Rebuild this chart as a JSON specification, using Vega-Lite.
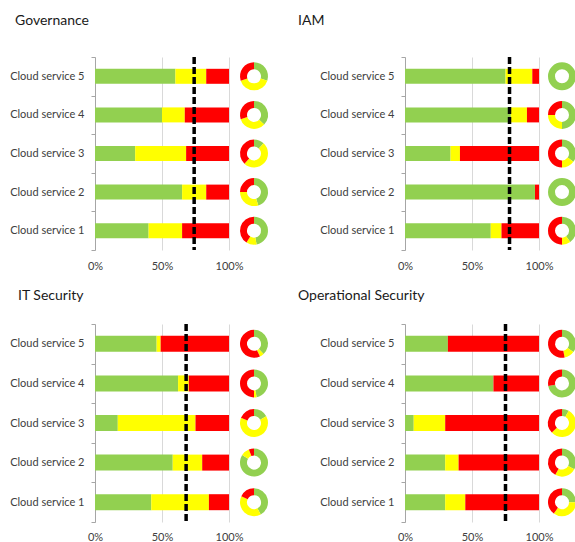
{
  "$schema": "https://vega.github.io/schema/vega-lite/v6.json",
  "padding": {"left": 8, "top": 14, "right": 0, "bottom": 0},
  "config": {
    "font": "Lato",
    "view": {"stroke": null},
    "title": {"font": "Lato", "fontSize": 14, "fontWeight": "normal", "color": "#1a1a1a", "anchor": "start", "offset": 23},
    "axisX": {"format": ".0%", "ticks": false, "domain": false, "grid": true, "gridColor": "#d9d9d9", "labelFlush": false, "labelFont": "Lato", "labelFontSize": 11, "labelColor": "#404040", "labelPadding": 10, "title": null},
    "axisY": {"domain": true, "domainColor": "#a6a6a6", "ticks": true, "tickBand": "extent", "tickSize": 4, "tickColor": "#a6a6a6", "grid": false, "labelFont": "Lato", "labelFontSize": 11, "labelColor": "#404040", "labelPadding": 7, "minExtent": 87, "maxExtent": 87, "title": null}
  },
  "datasets": {
    "bars": [
      {"panel": "Governance", "service": "Cloud service 5", "status": "Compliant", "ord": 1, "value": 0.60},
      {"panel": "Governance", "service": "Cloud service 5", "status": "Partially compliant", "ord": 2, "value": 0.23},
      {"panel": "Governance", "service": "Cloud service 5", "status": "Non-compliant", "ord": 3, "value": 0.17},
      {"panel": "Governance", "service": "Cloud service 4", "status": "Compliant", "ord": 1, "value": 0.50},
      {"panel": "Governance", "service": "Cloud service 4", "status": "Partially compliant", "ord": 2, "value": 0.17},
      {"panel": "Governance", "service": "Cloud service 4", "status": "Non-compliant", "ord": 3, "value": 0.33},
      {"panel": "Governance", "service": "Cloud service 3", "status": "Compliant", "ord": 1, "value": 0.30},
      {"panel": "Governance", "service": "Cloud service 3", "status": "Partially compliant", "ord": 2, "value": 0.38},
      {"panel": "Governance", "service": "Cloud service 3", "status": "Non-compliant", "ord": 3, "value": 0.32},
      {"panel": "Governance", "service": "Cloud service 2", "status": "Compliant", "ord": 1, "value": 0.65},
      {"panel": "Governance", "service": "Cloud service 2", "status": "Partially compliant", "ord": 2, "value": 0.18},
      {"panel": "Governance", "service": "Cloud service 2", "status": "Non-compliant", "ord": 3, "value": 0.17},
      {"panel": "Governance", "service": "Cloud service 1", "status": "Compliant", "ord": 1, "value": 0.40},
      {"panel": "Governance", "service": "Cloud service 1", "status": "Partially compliant", "ord": 2, "value": 0.25},
      {"panel": "Governance", "service": "Cloud service 1", "status": "Non-compliant", "ord": 3, "value": 0.35},
      {"panel": "IAM", "service": "Cloud service 5", "status": "Compliant", "ord": 1, "value": 0.75},
      {"panel": "IAM", "service": "Cloud service 5", "status": "Partially compliant", "ord": 2, "value": 0.20},
      {"panel": "IAM", "service": "Cloud service 5", "status": "Non-compliant", "ord": 3, "value": 0.05},
      {"panel": "IAM", "service": "Cloud service 4", "status": "Compliant", "ord": 1, "value": 0.79},
      {"panel": "IAM", "service": "Cloud service 4", "status": "Partially compliant", "ord": 2, "value": 0.12},
      {"panel": "IAM", "service": "Cloud service 4", "status": "Non-compliant", "ord": 3, "value": 0.09},
      {"panel": "IAM", "service": "Cloud service 3", "status": "Compliant", "ord": 1, "value": 0.34},
      {"panel": "IAM", "service": "Cloud service 3", "status": "Partially compliant", "ord": 2, "value": 0.07},
      {"panel": "IAM", "service": "Cloud service 3", "status": "Non-compliant", "ord": 3, "value": 0.59},
      {"panel": "IAM", "service": "Cloud service 2", "status": "Compliant", "ord": 1, "value": 0.97},
      {"panel": "IAM", "service": "Cloud service 2", "status": "Partially compliant", "ord": 2, "value": 0.0},
      {"panel": "IAM", "service": "Cloud service 2", "status": "Non-compliant", "ord": 3, "value": 0.03},
      {"panel": "IAM", "service": "Cloud service 1", "status": "Compliant", "ord": 1, "value": 0.64},
      {"panel": "IAM", "service": "Cloud service 1", "status": "Partially compliant", "ord": 2, "value": 0.08},
      {"panel": "IAM", "service": "Cloud service 1", "status": "Non-compliant", "ord": 3, "value": 0.28},
      {"panel": "IT Security", "service": "Cloud service 5", "status": "Compliant", "ord": 1, "value": 0.46},
      {"panel": "IT Security", "service": "Cloud service 5", "status": "Partially compliant", "ord": 2, "value": 0.03},
      {"panel": "IT Security", "service": "Cloud service 5", "status": "Non-compliant", "ord": 3, "value": 0.51},
      {"panel": "IT Security", "service": "Cloud service 4", "status": "Compliant", "ord": 1, "value": 0.62},
      {"panel": "IT Security", "service": "Cloud service 4", "status": "Partially compliant", "ord": 2, "value": 0.08},
      {"panel": "IT Security", "service": "Cloud service 4", "status": "Non-compliant", "ord": 3, "value": 0.30},
      {"panel": "IT Security", "service": "Cloud service 3", "status": "Compliant", "ord": 1, "value": 0.17},
      {"panel": "IT Security", "service": "Cloud service 3", "status": "Partially compliant", "ord": 2, "value": 0.58},
      {"panel": "IT Security", "service": "Cloud service 3", "status": "Non-compliant", "ord": 3, "value": 0.25},
      {"panel": "IT Security", "service": "Cloud service 2", "status": "Compliant", "ord": 1, "value": 0.58},
      {"panel": "IT Security", "service": "Cloud service 2", "status": "Partially compliant", "ord": 2, "value": 0.22},
      {"panel": "IT Security", "service": "Cloud service 2", "status": "Non-compliant", "ord": 3, "value": 0.20},
      {"panel": "IT Security", "service": "Cloud service 1", "status": "Compliant", "ord": 1, "value": 0.42},
      {"panel": "IT Security", "service": "Cloud service 1", "status": "Partially compliant", "ord": 2, "value": 0.43},
      {"panel": "IT Security", "service": "Cloud service 1", "status": "Non-compliant", "ord": 3, "value": 0.15},
      {"panel": "Operational Security", "service": "Cloud service 5", "status": "Compliant", "ord": 1, "value": 0.32},
      {"panel": "Operational Security", "service": "Cloud service 5", "status": "Partially compliant", "ord": 2, "value": 0.0},
      {"panel": "Operational Security", "service": "Cloud service 5", "status": "Non-compliant", "ord": 3, "value": 0.68},
      {"panel": "Operational Security", "service": "Cloud service 4", "status": "Compliant", "ord": 1, "value": 0.66},
      {"panel": "Operational Security", "service": "Cloud service 4", "status": "Partially compliant", "ord": 2, "value": 0.0},
      {"panel": "Operational Security", "service": "Cloud service 4", "status": "Non-compliant", "ord": 3, "value": 0.34},
      {"panel": "Operational Security", "service": "Cloud service 3", "status": "Compliant", "ord": 1, "value": 0.065},
      {"panel": "Operational Security", "service": "Cloud service 3", "status": "Partially compliant", "ord": 2, "value": 0.235},
      {"panel": "Operational Security", "service": "Cloud service 3", "status": "Non-compliant", "ord": 3, "value": 0.70},
      {"panel": "Operational Security", "service": "Cloud service 2", "status": "Compliant", "ord": 1, "value": 0.30},
      {"panel": "Operational Security", "service": "Cloud service 2", "status": "Partially compliant", "ord": 2, "value": 0.10},
      {"panel": "Operational Security", "service": "Cloud service 2", "status": "Non-compliant", "ord": 3, "value": 0.60},
      {"panel": "Operational Security", "service": "Cloud service 1", "status": "Compliant", "ord": 1, "value": 0.30},
      {"panel": "Operational Security", "service": "Cloud service 1", "status": "Partially compliant", "ord": 2, "value": 0.15},
      {"panel": "Operational Security", "service": "Cloud service 1", "status": "Non-compliant", "ord": 3, "value": 0.55}
    ],
    "targets": [
      {"panel": "Governance", "value": 0.74},
      {"panel": "IAM", "value": 0.78},
      {"panel": "IT Security", "value": 0.68},
      {"panel": "Operational Security", "value": 0.75}
    ],
    "donuts": [
      {"panel": "Governance", "service": "Cloud service 5", "status": "Compliant", "ord": 1, "value": 30},
      {"panel": "Governance", "service": "Cloud service 5", "status": "Partially compliant", "ord": 2, "value": 40},
      {"panel": "Governance", "service": "Cloud service 5", "status": "Non-compliant", "ord": 3, "value": 30},
      {"panel": "Governance", "service": "Cloud service 4", "status": "Compliant", "ord": 1, "value": 37},
      {"panel": "Governance", "service": "Cloud service 4", "status": "Partially compliant", "ord": 2, "value": 33},
      {"panel": "Governance", "service": "Cloud service 4", "status": "Non-compliant", "ord": 3, "value": 30},
      {"panel": "Governance", "service": "Cloud service 3", "status": "Compliant", "ord": 1, "value": 12},
      {"panel": "Governance", "service": "Cloud service 3", "status": "Partially compliant", "ord": 2, "value": 50},
      {"panel": "Governance", "service": "Cloud service 3", "status": "Non-compliant", "ord": 3, "value": 38},
      {"panel": "Governance", "service": "Cloud service 2", "status": "Compliant", "ord": 1, "value": 45},
      {"panel": "Governance", "service": "Cloud service 2", "status": "Partially compliant", "ord": 2, "value": 30},
      {"panel": "Governance", "service": "Cloud service 2", "status": "Non-compliant", "ord": 3, "value": 25},
      {"panel": "Governance", "service": "Cloud service 1", "status": "Compliant", "ord": 1, "value": 47},
      {"panel": "Governance", "service": "Cloud service 1", "status": "Partially compliant", "ord": 2, "value": 12},
      {"panel": "Governance", "service": "Cloud service 1", "status": "Non-compliant", "ord": 3, "value": 41},
      {"panel": "IAM", "service": "Cloud service 5", "status": "Compliant", "ord": 1, "value": 100},
      {"panel": "IAM", "service": "Cloud service 5", "status": "Partially compliant", "ord": 2, "value": 0},
      {"panel": "IAM", "service": "Cloud service 5", "status": "Non-compliant", "ord": 3, "value": 0},
      {"panel": "IAM", "service": "Cloud service 4", "status": "Compliant", "ord": 1, "value": 50},
      {"panel": "IAM", "service": "Cloud service 4", "status": "Partially compliant", "ord": 2, "value": 25},
      {"panel": "IAM", "service": "Cloud service 4", "status": "Non-compliant", "ord": 3, "value": 25},
      {"panel": "IAM", "service": "Cloud service 3", "status": "Compliant", "ord": 1, "value": 35},
      {"panel": "IAM", "service": "Cloud service 3", "status": "Partially compliant", "ord": 2, "value": 15},
      {"panel": "IAM", "service": "Cloud service 3", "status": "Non-compliant", "ord": 3, "value": 50},
      {"panel": "IAM", "service": "Cloud service 2", "status": "Compliant", "ord": 1, "value": 100},
      {"panel": "IAM", "service": "Cloud service 2", "status": "Partially compliant", "ord": 2, "value": 0},
      {"panel": "IAM", "service": "Cloud service 2", "status": "Non-compliant", "ord": 3, "value": 0},
      {"panel": "IAM", "service": "Cloud service 1", "status": "Compliant", "ord": 1, "value": 40},
      {"panel": "IAM", "service": "Cloud service 1", "status": "Partially compliant", "ord": 2, "value": 10},
      {"panel": "IAM", "service": "Cloud service 1", "status": "Non-compliant", "ord": 3, "value": 50},
      {"panel": "IT Security", "service": "Cloud service 5", "status": "Compliant", "ord": 1, "value": 38},
      {"panel": "IT Security", "service": "Cloud service 5", "status": "Partially compliant", "ord": 2, "value": 5},
      {"panel": "IT Security", "service": "Cloud service 5", "status": "Non-compliant", "ord": 3, "value": 57},
      {"panel": "IT Security", "service": "Cloud service 4", "status": "Compliant", "ord": 1, "value": 47},
      {"panel": "IT Security", "service": "Cloud service 4", "status": "Partially compliant", "ord": 2, "value": 3},
      {"panel": "IT Security", "service": "Cloud service 4", "status": "Non-compliant", "ord": 3, "value": 50},
      {"panel": "IT Security", "service": "Cloud service 3", "status": "Compliant", "ord": 1, "value": 17},
      {"panel": "IT Security", "service": "Cloud service 3", "status": "Partially compliant", "ord": 2, "value": 64},
      {"panel": "IT Security", "service": "Cloud service 3", "status": "Non-compliant", "ord": 3, "value": 19},
      {"panel": "IT Security", "service": "Cloud service 2", "status": "Compliant", "ord": 1, "value": 84},
      {"panel": "IT Security", "service": "Cloud service 2", "status": "Partially compliant", "ord": 2, "value": 10},
      {"panel": "IT Security", "service": "Cloud service 2", "status": "Non-compliant", "ord": 3, "value": 6},
      {"panel": "IT Security", "service": "Cloud service 1", "status": "Compliant", "ord": 1, "value": 42},
      {"panel": "IT Security", "service": "Cloud service 1", "status": "Partially compliant", "ord": 2, "value": 40},
      {"panel": "IT Security", "service": "Cloud service 1", "status": "Non-compliant", "ord": 3, "value": 18},
      {"panel": "Operational Security", "service": "Cloud service 5", "status": "Compliant", "ord": 1, "value": 35},
      {"panel": "Operational Security", "service": "Cloud service 5", "status": "Partially compliant", "ord": 2, "value": 12},
      {"panel": "Operational Security", "service": "Cloud service 5", "status": "Non-compliant", "ord": 3, "value": 53},
      {"panel": "Operational Security", "service": "Cloud service 4", "status": "Compliant", "ord": 1, "value": 72},
      {"panel": "Operational Security", "service": "Cloud service 4", "status": "Partially compliant", "ord": 2, "value": 0},
      {"panel": "Operational Security", "service": "Cloud service 4", "status": "Non-compliant", "ord": 3, "value": 28},
      {"panel": "Operational Security", "service": "Cloud service 3", "status": "Compliant", "ord": 1, "value": 8},
      {"panel": "Operational Security", "service": "Cloud service 3", "status": "Partially compliant", "ord": 2, "value": 55},
      {"panel": "Operational Security", "service": "Cloud service 3", "status": "Non-compliant", "ord": 3, "value": 37},
      {"panel": "Operational Security", "service": "Cloud service 2", "status": "Compliant", "ord": 1, "value": 33},
      {"panel": "Operational Security", "service": "Cloud service 2", "status": "Partially compliant", "ord": 2, "value": 25},
      {"panel": "Operational Security", "service": "Cloud service 2", "status": "Non-compliant", "ord": 3, "value": 42},
      {"panel": "Operational Security", "service": "Cloud service 1", "status": "Compliant", "ord": 1, "value": 25},
      {"panel": "Operational Security", "service": "Cloud service 1", "status": "Partially compliant", "ord": 2, "value": 35},
      {"panel": "Operational Security", "service": "Cloud service 1", "status": "Non-compliant", "ord": 3, "value": 40}
    ]
  },
  "spacing": 18,
  "vconcat": [
    {
      "spacing": 30,
      "hconcat": [
        {
          "title": {"text": "Governance", "dx": 7},
          "spacing": 11,
          "bounds": "flush",
          "hconcat": [
            {
              "width": 134, "height": 193,
              "layer": [
                {
                  "data": {"name": "bars"},
                  "transform": [{"filter": {"field": "panel", "equal": "Governance"}}],
                  "mark": {"type": "bar", "size": 15},
                  "encoding": {
                    "y": {"field": "service", "type": "nominal", "sort": "descending", "scale": {"paddingInner": 0, "paddingOuter": 0}},
                    "x": {"field": "value", "type": "quantitative", "stack": "zero", "scale": {"domain": [0, 1]}, "axis": {"values": [0, 0.5, 1]}},
                    "color": {"field": "status", "type": "nominal", "scale": {"domain": ["Compliant", "Partially compliant", "Non-compliant"], "range": ["#92D050", "#FFFF00", "#FF0000"]}, "legend": null},
                    "order": {"field": "ord"}
                  }
                },
                {
                  "data": {"name": "targets"},
                  "transform": [{"filter": {"field": "panel", "equal": "Governance"}}],
                  "mark": {"type": "rule", "color": "#000000", "strokeWidth": 3.5, "strokeDash": [7, 3]},
                  "encoding": {"x": {"field": "value", "type": "quantitative"}}
                }
              ]
            },
            {
              "width": 28, "height": 193,
              "data": {"name": "donuts"},
              "transform": [
                {"filter": {"field": "panel", "equal": "Governance"}},
                {"stack": "value", "groupby": ["service"], "sort": [{"field": "ord"}], "offset": "normalize", "as": ["t0", "t1"]}
              ],
              "mark": {"type": "arc", "innerRadius": 7, "outerRadius": 14},
              "encoding": {
                "y": {"field": "service", "type": "nominal", "sort": "descending", "scale": {"paddingInner": 0, "paddingOuter": 0}, "axis": null},
                "theta": {"field": "t0", "type": "quantitative", "stack": null, "scale": {"domain": [0, 1]}},
                "theta2": {"field": "t1"},
                "color": {"field": "status", "type": "nominal", "scale": {"domain": ["Compliant", "Partially compliant", "Non-compliant"], "range": ["#92D050", "#FFFF00", "#FF0000"]}, "legend": null}
              }
            }
          ]
        },
        {
          "title": {"text": "IAM", "dx": -20},
          "spacing": 10,
          "bounds": "flush",
          "hconcat": [
            {
              "width": 134, "height": 193,
              "layer": [
                {
                  "data": {"name": "bars"},
                  "transform": [{"filter": {"field": "panel", "equal": "IAM"}}],
                  "mark": {"type": "bar", "size": 15},
                  "encoding": {
                    "y": {"field": "service", "type": "nominal", "sort": "descending", "scale": {"paddingInner": 0, "paddingOuter": 0}},
                    "x": {"field": "value", "type": "quantitative", "stack": "zero", "scale": {"domain": [0, 1]}, "axis": {"values": [0, 0.5, 1]}},
                    "color": {"field": "status", "type": "nominal", "scale": {"domain": ["Compliant", "Partially compliant", "Non-compliant"], "range": ["#92D050", "#FFFF00", "#FF0000"]}, "legend": null},
                    "order": {"field": "ord"}
                  }
                },
                {
                  "data": {"name": "targets"},
                  "transform": [{"filter": {"field": "panel", "equal": "IAM"}}],
                  "mark": {"type": "rule", "color": "#000000", "strokeWidth": 3.5, "strokeDash": [7, 3]},
                  "encoding": {"x": {"field": "value", "type": "quantitative"}}
                }
              ]
            },
            {
              "width": 26, "height": 193,
              "data": {"name": "donuts"},
              "transform": [
                {"filter": {"field": "panel", "equal": "IAM"}},
                {"stack": "value", "groupby": ["service"], "sort": [{"field": "ord"}], "offset": "normalize", "as": ["t0", "t1"]}
              ],
              "mark": {"type": "arc", "innerRadius": 7, "outerRadius": 14},
              "encoding": {
                "y": {"field": "service", "type": "nominal", "sort": "descending", "scale": {"paddingInner": 0, "paddingOuter": 0}, "axis": null},
                "theta": {"field": "t0", "type": "quantitative", "stack": null, "scale": {"domain": [0, 1]}},
                "theta2": {"field": "t1"},
                "color": {"field": "status", "type": "nominal", "scale": {"domain": ["Compliant", "Partially compliant", "Non-compliant"], "range": ["#92D050", "#FFFF00", "#FF0000"]}, "legend": null}
              }
            }
          ]
        }
      ]
    },
    {
      "spacing": 30,
      "hconcat": [
        {
          "title": {"text": "IT Security", "dx": 10, "offset": 15},
          "spacing": 11,
          "bounds": "flush",
          "hconcat": [
            {
              "width": 134, "height": 198,
              "layer": [
                {
                  "data": {"name": "bars"},
                  "transform": [{"filter": {"field": "panel", "equal": "IT Security"}}],
                  "mark": {"type": "bar", "size": 16},
                  "encoding": {
                    "y": {"field": "service", "type": "nominal", "sort": "descending", "scale": {"paddingInner": 0, "paddingOuter": 0}},
                    "x": {"field": "value", "type": "quantitative", "stack": "zero", "scale": {"domain": [0, 1]}, "axis": {"values": [0, 0.5, 1], "labelPadding": 9}},
                    "color": {"field": "status", "type": "nominal", "scale": {"domain": ["Compliant", "Partially compliant", "Non-compliant"], "range": ["#92D050", "#FFFF00", "#FF0000"]}, "legend": null},
                    "order": {"field": "ord"}
                  }
                },
                {
                  "data": {"name": "targets"},
                  "transform": [{"filter": {"field": "panel", "equal": "IT Security"}}],
                  "mark": {"type": "rule", "color": "#000000", "strokeWidth": 3.5, "strokeDash": [7, 3]},
                  "encoding": {"x": {"field": "value", "type": "quantitative"}}
                }
              ]
            },
            {
              "width": 28, "height": 198,
              "data": {"name": "donuts"},
              "transform": [
                {"filter": {"field": "panel", "equal": "IT Security"}},
                {"stack": "value", "groupby": ["service"], "sort": [{"field": "ord"}], "offset": "normalize", "as": ["t0", "t1"]}
              ],
              "mark": {"type": "arc", "innerRadius": 7, "outerRadius": 14},
              "encoding": {
                "y": {"field": "service", "type": "nominal", "sort": "descending", "scale": {"paddingInner": 0, "paddingOuter": 0}, "axis": null},
                "theta": {"field": "t0", "type": "quantitative", "stack": null, "scale": {"domain": [0, 1]}},
                "theta2": {"field": "t1"},
                "color": {"field": "status", "type": "nominal", "scale": {"domain": ["Compliant", "Partially compliant", "Non-compliant"], "range": ["#92D050", "#FFFF00", "#FF0000"]}, "legend": null}
              }
            }
          ]
        },
        {
          "title": {"text": "Operational Security", "dx": -20, "offset": 15},
          "spacing": 10,
          "bounds": "flush",
          "hconcat": [
            {
              "width": 134, "height": 198,
              "layer": [
                {
                  "data": {"name": "bars"},
                  "transform": [{"filter": {"field": "panel", "equal": "Operational Security"}}],
                  "mark": {"type": "bar", "size": 16},
                  "encoding": {
                    "y": {"field": "service", "type": "nominal", "sort": "descending", "scale": {"paddingInner": 0, "paddingOuter": 0}},
                    "x": {"field": "value", "type": "quantitative", "stack": "zero", "scale": {"domain": [0, 1]}, "axis": {"values": [0, 0.5, 1], "labelPadding": 9}},
                    "color": {"field": "status", "type": "nominal", "scale": {"domain": ["Compliant", "Partially compliant", "Non-compliant"], "range": ["#92D050", "#FFFF00", "#FF0000"]}, "legend": null},
                    "order": {"field": "ord"}
                  }
                },
                {
                  "data": {"name": "targets"},
                  "transform": [{"filter": {"field": "panel", "equal": "Operational Security"}}],
                  "mark": {"type": "rule", "color": "#000000", "strokeWidth": 3.5, "strokeDash": [7, 3]},
                  "encoding": {"x": {"field": "value", "type": "quantitative"}}
                }
              ]
            },
            {
              "width": 26, "height": 198,
              "data": {"name": "donuts"},
              "transform": [
                {"filter": {"field": "panel", "equal": "Operational Security"}},
                {"stack": "value", "groupby": ["service"], "sort": [{"field": "ord"}], "offset": "normalize", "as": ["t0", "t1"]}
              ],
              "mark": {"type": "arc", "innerRadius": 7, "outerRadius": 14},
              "encoding": {
                "y": {"field": "service", "type": "nominal", "sort": "descending", "scale": {"paddingInner": 0, "paddingOuter": 0}, "axis": null},
                "theta": {"field": "t0", "type": "quantitative", "stack": null, "scale": {"domain": [0, 1]}},
                "theta2": {"field": "t1"},
                "color": {"field": "status", "type": "nominal", "scale": {"domain": ["Compliant", "Partially compliant", "Non-compliant"], "range": ["#92D050", "#FFFF00", "#FF0000"]}, "legend": null}
              }
            }
          ]
        }
      ]
    }
  ]
}
